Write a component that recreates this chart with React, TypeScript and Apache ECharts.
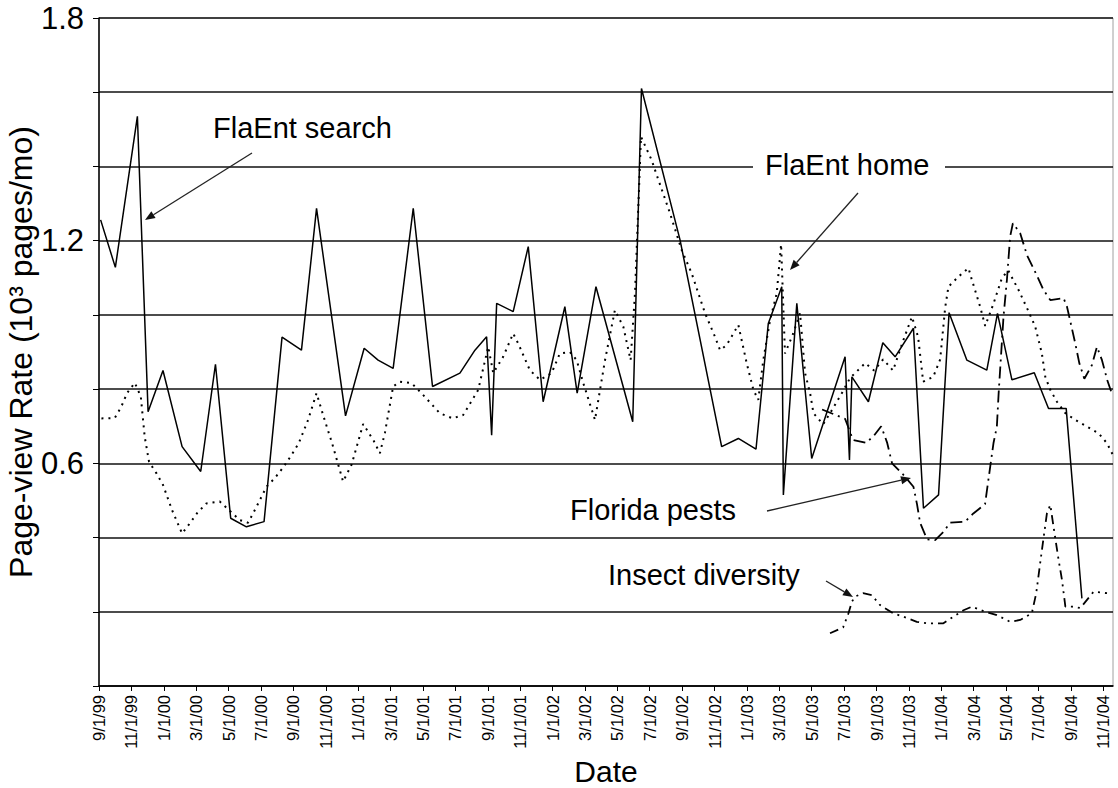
import React, { useEffect, useRef } from "react";
import * as echarts from "echarts";

// X tick labels (one every 2 months, starting 9/1/99 = month 0)
const xTickLabels = [
  "9/1/99", "11/1/99", "1/1/00", "3/1/00", "5/1/00", "7/1/00", "9/1/00", "11/1/00",
  "1/1/01", "3/1/01", "5/1/01", "7/1/01", "9/1/01", "11/1/01", "1/1/02", "3/1/02",
  "5/1/02", "7/1/02", "9/1/02", "11/1/02", "1/1/03", "3/1/03", "5/1/03", "7/1/03",
  "9/1/03", "11/1/03", "1/1/04", "3/1/04", "5/1/04", "7/1/04", "9/1/04", "11/1/04",
];
const yLabelValues = [0.6, 1.2, 1.8];

// FlaEnt search (solid) — x in months since 9/1/99
const searchMonths = [
  0.1, 1.01, 2.37, 3.03, 3.95, 5.13, 6.28, 7.19, 8.13, 9.1, 10.19, 11.3, 12.5, 13.43, 15.22,
  16.37, 17.23, 18.16, 19.4, 20.59, 22.28, 23.21, 23.93, 24.24, 24.55, 25.57, 26.5, 27.42,
  28.76, 29.52, 30.68, 32.95, 33.49, 35.87, 38.44, 39.47, 40.56, 41.32, 42.15, 42.25, 43.08,
  44.0, 46.06, 46.33, 46.48, 47.5, 48.39, 49.15, 50.28, 50.9, 51.83, 52.48, 53.58, 54.81,
  55.47, 56.36, 57.74, 58.62, 59.71, 60.68,
];
const searchValues = [
  1.256, 1.128, 1.535, 0.739, 0.85, 0.645, 0.578, 0.867, 0.452, 0.429, 0.443, 0.94, 0.905, 1.287, 0.728,
  0.91, 0.878, 0.856, 1.287, 0.807, 0.843, 0.905, 0.941, 0.676, 1.031, 1.009, 1.184, 0.766,
  1.022, 0.789, 1.076, 0.712, 1.61, 1.202, 0.645, 0.667, 0.638, 0.977, 1.076, 0.515, 1.031,
  0.613, 0.887, 0.609, 0.833, 0.766, 0.925, 0.887, 0.964, 0.479, 0.515, 1.006, 0.878, 0.851,
  1.004, 0.825, 0.844, 0.748, 0.748, 0.236,
];

// FlaEnt home (dotted)
const homeMonths = [
  0.15, 0.97, 1.38, 1.73, 2.21, 2.58, 2.82, 3.09, 3.55, 3.95, 4.51, 5.13, 5.6, 6.08, 6.63, 7.46,
  8.69, 9.2, 9.57, 9.93, 10.34, 10.85, 11.37, 11.88, 12.33, 12.91, 13.43, 13.9, 14.39, 15.07,
  15.59, 16.31, 16.97, 17.34, 17.65, 18.16, 18.57, 19.3, 19.91, 21.04, 21.83, 22.48, 23.41,
  24.03, 24.34, 24.95, 25.57, 25.88, 26.6, 27.22, 27.94, 28.45, 29.07, 29.49, 29.9, 30.62,
  31.24, 31.85, 32.37, 32.82, 33.09, 33.46, 34.12, 34.43, 35.25, 35.97, 36.59, 37.41, 38.03,
  38.34, 38.75, 39.47, 39.99, 40.4, 40.7, 41.01, 41.43, 41.84, 42.11, 42.35, 42.86, 43.28,
  43.59, 43.9, 44.11, 44.7, 45.2, 45.87, 46.37, 47.3, 47.85, 48.41, 49.02, 49.64, 50.19,
  50.57, 50.88, 51.5, 51.93, 52.24, 52.44, 53.06, 53.68, 53.89, 54.4, 54.71, 55.22, 55.74,
  56.13, 56.77, 57.39, 57.8, 58.21, 58.42, 58.73, 59.14, 59.66, 60.28, 61.0, 61.71, 62.23, 62.6,
];
const homeValues = [
  0.721, 0.722, 0.753, 0.789, 0.817, 0.78, 0.672, 0.604, 0.573, 0.542, 0.474, 0.411, 0.438, 0.467, 0.492, 0.497,
  0.447, 0.44, 0.47, 0.501, 0.537, 0.56, 0.589, 0.622, 0.654, 0.717, 0.789, 0.721, 0.654, 0.551,
  0.596, 0.706, 0.66, 0.627, 0.682, 0.807, 0.82, 0.816, 0.789, 0.735, 0.721, 0.73, 0.798,
  0.914, 0.843, 0.887, 0.95, 0.923, 0.851, 0.825, 0.843, 0.896, 0.9, 0.878, 0.816, 0.717,
  0.878, 1.013, 0.968, 0.878, 1.058, 1.48, 1.417, 1.377, 1.274, 1.175, 1.112, 1.005, 0.941,
  0.905, 0.919, 0.973, 0.869, 0.798, 0.771, 0.878, 0.986, 1.058, 1.19, 0.896, 0.95, 1.005,
  0.843, 0.789, 0.735, 0.705, 0.74, 0.79, 0.83, 0.87, 0.85, 0.88, 0.85, 0.93, 0.995,
  0.94, 0.82, 0.833, 0.88, 1.02, 1.076, 1.103, 1.126, 1.094, 1.022, 0.97, 1.03, 1.099,
  1.12, 1.067, 1.009, 0.968, 0.896, 0.833, 0.798, 0.766, 0.735, 0.717, 0.699, 0.681, 0.654, 0.622,
];

// Florida pests (dash-dot)
const pestsMonths = [
  44.64, 46.06, 46.55, 47.36, 47.85, 48.29, 48.66, 48.96, 49.64, 50.28, 50.5, 50.69, 51.12,
  51.62, 52.13, 52.54, 53.47, 53.98, 54.7, 55.02, 55.22, 55.43, 55.54, 55.84, 56.05, 56.25,
  56.42, 56.87, 57.3, 57.86, 58.31, 58.73, 59.55, 59.76, 60.03, 60.27, 60.52, 60.83, 61.3,
  61.61, 61.92, 62.24, 62.55,
];
const pestsValues = [
  0.745, 0.72, 0.663, 0.655, 0.675, 0.7, 0.655, 0.6, 0.57, 0.537, 0.49, 0.44, 0.395,
  0.393, 0.415, 0.44, 0.443, 0.465, 0.49, 0.591, 0.654, 0.699, 0.789, 0.995, 1.094, 1.211,
  1.247, 1.22, 1.16, 1.11, 1.067, 1.04, 1.045, 1.022, 0.97, 0.923, 0.87, 0.828, 0.865,
  0.914, 0.878, 0.825, 0.785,
];

// Insect diversity (dashed)
const diversityMonths = [
  45.13, 45.94, 46.27, 46.48, 46.68, 47.17, 47.71, 48.22, 49.03, 49.64, 50.49, 51.11, 52.13,
  52.75, 53.37, 53.89, 54.71, 55.43, 56.25, 56.87, 57.59, 57.86, 58.21, 58.52, 58.73, 58.93,
  59.24, 59.45, 59.66, 60.07, 60.58, 61.4, 62.23,
];
const diversityValues = [
  0.142, 0.158, 0.196, 0.227, 0.241, 0.25, 0.245, 0.218, 0.196, 0.187, 0.173, 0.169, 0.169,
  0.187, 0.204, 0.214, 0.2, 0.191, 0.173, 0.178, 0.196, 0.25, 0.366, 0.465, 0.488, 0.429,
  0.34, 0.286, 0.214, 0.214, 0.21, 0.254, 0.25,
];

const FONT = '"Liberation Sans", Arial, Helvetica, sans-serif';

const pairs = (xs: number[], ys: number[]) => xs.map((x, i) => [x, ys[i]]);

function arrow(x1: number, y1: number, x2: number, y2: number) {
  const dx = x2 - x1;
  const dy = y2 - y1;
  const L = Math.hypot(dx, dy);
  const ux = dx / L;
  const uy = dy / L;
  const hl = 10;
  const hw = 4;
  const bx = x2 - ux * hl;
  const by = y2 - uy * hl;
  return [
    {
      type: "line",
      z: 100,
      shape: { x1, y1, x2: bx, y2: by },
      style: { stroke: "#222", lineWidth: 1.3 },
    },
    {
      type: "polygon",
      z: 100,
      shape: {
        points: [
          [x2, y2],
          [bx - uy * hw, by + ux * hw],
          [bx + uy * hw, by - ux * hw],
        ],
      },
      style: { fill: "#111" },
    },
  ];
}

function label(text: string, x: number, y: number) {
  return {
    type: "text",
    z: 101,
    x,
    y,
    style: {
      text,
      fontSize: 29,
      fontFamily: FONT,
      fill: "#000",
      align: "left",
      verticalAlign: "middle",
    },
  };
}

export default function App() {
  const ref = useRef<HTMLDivElement>(null);
  useEffect(() => {
    if (!ref.current) return;
    const chart = echarts.init(ref.current, undefined, { renderer: "svg" });
    const option: any = {
      animation: false,
      backgroundColor: "#fff",
      grid: {
        left: 99,
        right: 5,
        top: 18,
        bottom: 102,
        containLabel: false,
        outerBoundsMode: "none",
        show: true,
        borderColor: "#a0a0a0",
        borderWidth: 1,
      },
      xAxis: {
        type: "value",
        min: 0,
        max: 62.6,
        interval: 2,
        name: "Date",
        nameLocation: "middle",
        nameGap: 70,
        nameMoveOverlap: false,
        nameTextStyle: { fontFamily: FONT, fontSize: 30, color: "#000" },
        axisLine: { show: true, onZero: false, lineStyle: { color: "#000", width: 1.5 } },
        axisTick: { show: true, inside: false, length: 5, lineStyle: { color: "#000", width: 1 } },
        axisLabel: {
          rotate: 90,
          fontSize: 16.5,
          fontFamily: FONT,
          color: "#000",
          margin: 9,
          showMaxLabel: false,
          formatter: (v: number) => {
            const idx = Math.round(v / 2);
            if (Math.abs(v - idx * 2) > 1e-6) return "";
            return xTickLabels[idx] ?? "";
          },
        },
        splitLine: { show: false },
      },
      yAxis: {
        type: "value",
        min: 0,
        max: 1.8,
        interval: 0.2,
        name: "Page-view Rate (10³ pages/mo)",
        nameLocation: "middle",
        nameGap: 62,
        nameRotate: 90,
        nameMoveOverlap: false,
        nameTextStyle: { fontFamily: FONT, fontSize: 32, color: "#000" },
        axisLine: { show: true, lineStyle: { color: "#000", width: 1.5 } },
        axisTick: { show: true, inside: false, length: 6, lineStyle: { color: "#000", width: 1 } },
        axisLabel: {
          fontSize: 31,
          fontFamily: FONT,
          color: "#000",
          margin: 15,
          formatter: (v: number) => {
            const hit = yLabelValues.find((t) => Math.abs(t - v) < 1e-6);
            return hit !== undefined ? hit.toFixed(1) : "";
          },
        },
        splitLine: { show: true, lineStyle: { color: "#111", width: 1.6 } },
      },
      series: [
        {
          type: "line",
          name: "FlaEnt search",
          data: pairs(searchMonths, searchValues),
          showSymbol: false,
          symbol: "none",
          lineStyle: { color: "#000", width: 1.5, type: "solid" },
          z: 5,
        },
        {
          type: "line",
          name: "FlaEnt home",
          data: pairs(homeMonths, homeValues),
          showSymbol: false,
          symbol: "none",
          lineStyle: { color: "#000", width: 2, type: [2, 5] },
          z: 4,
        },
        {
          type: "line",
          name: "Florida pests",
          data: pairs(pestsMonths, pestsValues),
          showSymbol: false,
          symbol: "none",
          lineStyle: { color: "#000", width: 1.8, type: [12, 5, 2, 5] },
          z: 3,
        },
        {
          type: "line",
          name: "Insect diversity",
          data: pairs(diversityMonths, diversityValues),
          showSymbol: false,
          symbol: "none",
          lineStyle: { color: "#000", width: 1.8, type: [9, 5, 2, 5, 2, 5] },
          z: 3,
        },
      ],
      graphic: [
        {
          type: "rect",
          z: 99,
          shape: { x: 753, y: 151, width: 192, height: 30 },
          style: { fill: "#fff" },
        },
        label("FlaEnt search", 213, 128),
        label("FlaEnt home", 765, 165),
        label("Florida pests", 570, 510),
        label("Insect diversity", 608, 575),
        ...arrow(252, 153, 145, 220),
        ...arrow(858, 193, 790, 270),
        ...arrow(767, 511, 911, 478),
        ...arrow(826, 581, 853, 597),
      ],
    };
    chart.setOption(option);
    return () => chart.dispose();
  }, []);
  return (
    <div
      ref={ref}
      style={{ position: "fixed", left: 0, top: 0, width: 1118, height: 788, background: "#fff" }}
    />
  );
}
